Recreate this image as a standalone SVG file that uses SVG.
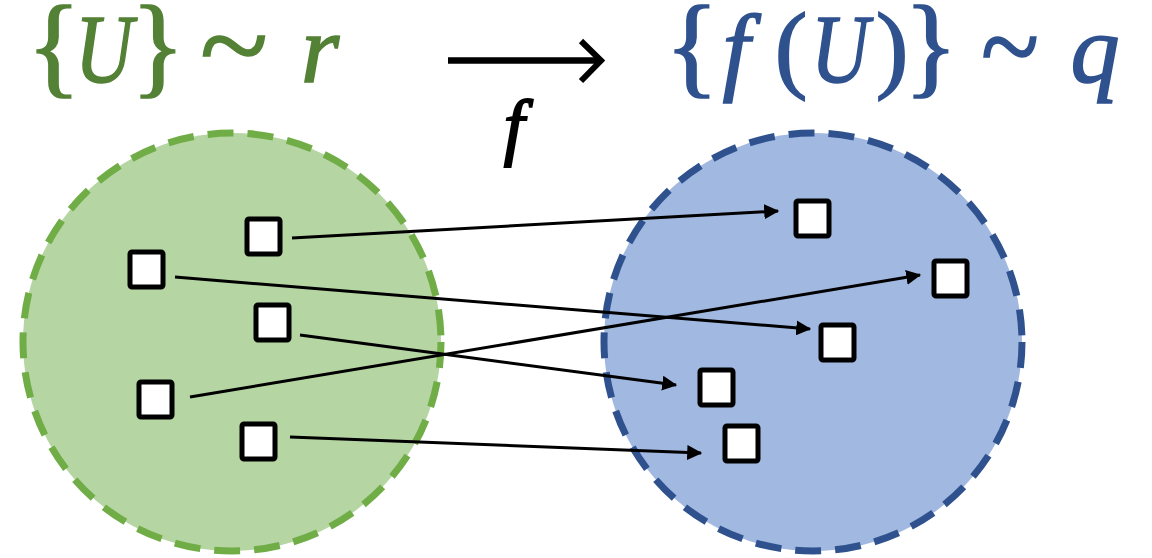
<svg xmlns="http://www.w3.org/2000/svg" width="1152" height="558" viewBox="0 0 1152 558">
<style>
.sq{fill:#fff;stroke:#000;stroke-width:5;}
.cn{stroke:#000;stroke-width:3;fill:none;}
.t{font-family:"Liberation Serif",serif;font-size:98px;text-anchor:middle;stroke-width:1.6;}
.br{font-size:112px;}
.tl{font-size:118px;}
.i{font-style:italic;}
.fm{font-size:74px;stroke-width:2;}
</style>
<defs>
<marker id="ah" markerWidth="5" markerHeight="5" refX="4.6" refY="2.5" orient="auto" markerUnits="strokeWidth">
<path d="M0,0 L5,2.5 L0,5 Z" fill="#000"/>
</marker>
</defs>
<rect width="1152" height="558" fill="#fff"/>
<g id="set-r">
<circle cx="232" cy="342" r="209" fill="#B5D5A3" stroke="#70AD47" stroke-width="7" stroke-dasharray="26,14"/>
</g>
<g id="set-q">
<circle cx="813" cy="342" r="209" fill="#A1B8E0" stroke="#2F528F" stroke-width="7" stroke-dasharray="26,14"/>
</g>
<g id="label-r" class="t" fill="#538135" stroke="#538135">
<text x="54" y="83" class="br">{</text>
<text x="104" y="82" class="i" textLength="58" lengthAdjust="spacingAndGlyphs">U</text>
<text x="158" y="83" class="br">}</text>
<text x="234" y="85" class="tl" textLength="68" lengthAdjust="spacingAndGlyphs">~</text>
<text x="320" y="82" class="i">r</text>
</g>
<g id="label-q" class="t" fill="#2F528F" stroke="#2F528F">
<text x="692" y="83" class="br">{</text>
<text x="736" y="82" class="i">f</text>
<text x="791" y="80">(</text>
<text x="840" y="82" class="i" textLength="58" lengthAdjust="spacingAndGlyphs">U</text>
<text x="892" y="80">)</text>
<text x="931" y="83" class="br">}</text>
<text x="1010" y="86" class="tl" textLength="58" lengthAdjust="spacingAndGlyphs">~</text>
<text x="1095" y="82" class="i">q</text>
</g>
<g id="map-arrow">
<path d="M448,60.5 H600" stroke="#000" stroke-width="6.5" fill="none"/>
<path d="M581,41 L601,60.5 L581,81" stroke="#000" stroke-width="6" fill="none" stroke-linejoin="miter"/>
<text x="514" y="151" class="t i fm" fill="#000" stroke="#000">f</text>
</g>
<g id="nodes-left">
<rect id="a" class="sq" x="247" y="219" width="33" height="35" rx="2"/>
<rect id="b" class="sq" x="130" y="252" width="33" height="35" rx="2"/>
<rect id="c" class="sq" x="256" y="305" width="33" height="35" rx="2"/>
<rect id="d" class="sq" x="139" y="382" width="33" height="35" rx="2"/>
<rect id="e" class="sq" x="242" y="424" width="33" height="35" rx="2"/>
</g>
<g id="nodes-right">
<rect id="r1" class="sq" x="796" y="201" width="33" height="35" rx="2"/>
<rect id="r2" class="sq" x="934" y="261" width="33" height="35" rx="2"/>
<rect id="r3" class="sq" x="821" y="325" width="33" height="35" rx="2"/>
<rect id="r4" class="sq" x="700" y="370" width="33" height="35" rx="2"/>
<rect id="r5" class="sq" x="725" y="426" width="33" height="35" rx="2"/>
</g>
<g id="connectors" class="cn">
<line x1="292" y1="238" x2="778" y2="211" marker-end="url(#ah)"/>
<line x1="175" y1="277" x2="810" y2="329" marker-end="url(#ah)"/>
<line x1="300" y1="335" x2="676" y2="385" marker-end="url(#ah)"/>
<line x1="190" y1="397" x2="920" y2="275" marker-end="url(#ah)"/>
<line x1="290" y1="437" x2="701" y2="453" marker-end="url(#ah)"/>
</g>
</svg>
